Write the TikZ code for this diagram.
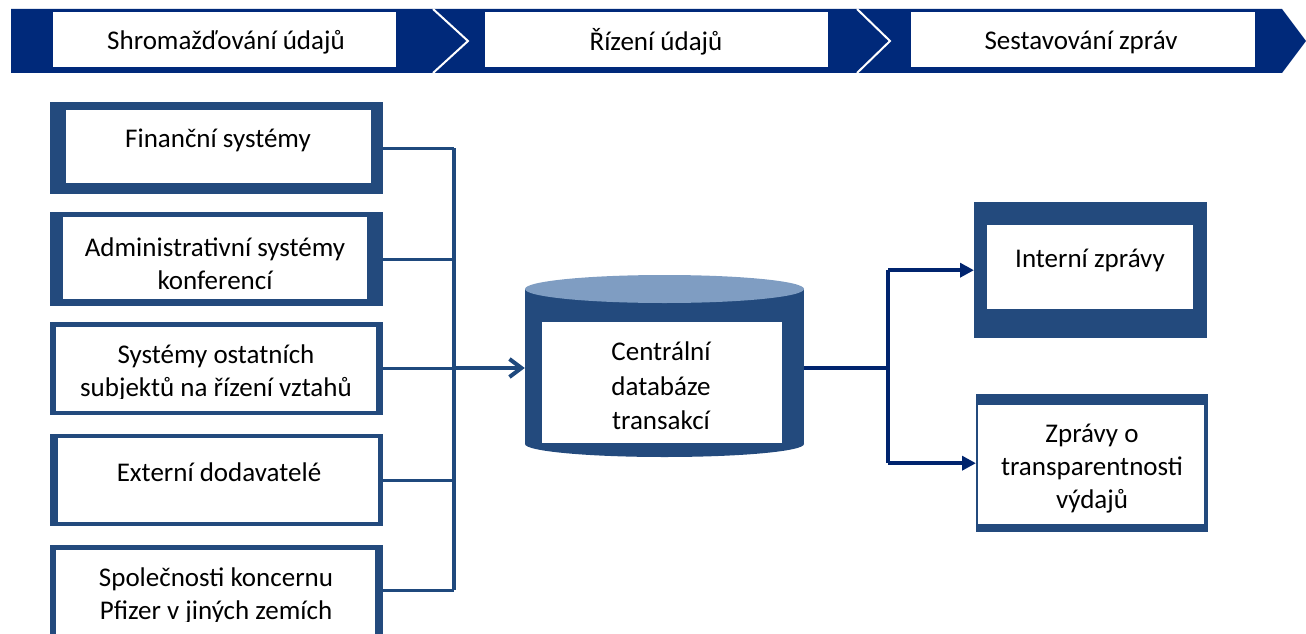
\documentclass[tikz,border=0pt]{standalone}
\usepackage{fontspec}
\setmainfont{Carlito}
\usetikzlibrary{arrows.meta}
\definecolor{bannerblue}{RGB}{0,41,122}
\definecolor{boxblue}{RGB}{35,74,125}
\definecolor{cyltop}{RGB}{127,157,194}
\definecolor{lineblue}{RGB}{31,73,125}
\definecolor{arrowblue}{RGB}{0,36,110}
\begin{document}
\begin{tikzpicture}[x=1pt,y=-1pt,
  frame/.style={fill=boxblue, inner sep=0pt, anchor=north west, draw=none},
  pane/.style={fill=white, inner sep=0pt, anchor=north west, draw=none},
  label/.style={font=\fontsize{27}{33}\selectfont, align=center, inner sep=0pt, text=black},
  feed/.style={draw=lineblue, line width=3.2pt},
  outarrow/.style={draw=arrowblue, line width=4pt},
]
\useasboundingbox (0,0) rectangle (1306,634);

% banner
\fill[bannerblue] (11,9) -- (1282,9) -- (1306,41) -- (1282,73) -- (11,73) -- cycle;
\draw[white, line width=2pt] (433,9) -- (468,41) -- (433,73);
\draw[white, line width=2pt] (857,9) -- (890,41) -- (857,73);
\node[pane, minimum width=343, minimum height=55] (b1) at (53,12) {};
\node[pane, minimum width=343, minimum height=55] (b2) at (485,12) {};
\node[pane, minimum width=344, minimum height=55] (b3) at (911,12) {};
\node[label] (b1t) at (226,42) {Shromažďování údajů};
\node[label] (b2t) at (656,42) {Řízení údajů};
\node[label] (b3t) at (1081,42) {Sestavování zpráv};

% left source boxes
\node[frame, minimum width=333, minimum height=92] (f1) at (50,102) {};
\node[pane, minimum width=305, minimum height=73] (p1) at (66,110) {};
\node[label] (t1) at (218,140) {Finanční systémy};

\node[frame, minimum width=333, minimum height=94] (f2) at (50,212) {};
\node[pane, minimum width=304, minimum height=82] (p2) at (63,217) {};
\node[label] (t2) at (215,264) {Administrativní systémy\\konferencí};

\node[frame, minimum width=333, minimum height=93] (f3) at (50,322) {};
\node[pane, minimum width=320, minimum height=84] (p3) at (56,327) {};
\begin{scope}
\clip (56,327) rectangle (376,398);
\node[label] (t3) at (216,373) {Systémy ostatních\\subjektů na řízení vztahů};
\end{scope}

\node[frame, minimum width=333, minimum height=92] (f4) at (50,434) {};
\node[pane, minimum width=320, minimum height=84] (p4) at (58,438) {};
\node[label] (t4) at (219,472) {Externí dodavatelé};

\node[frame, minimum width=333, minimum height=90] (f5) at (50,545) {};
\node[pane, minimum width=319, minimum height=90] (p5) at (56,550) {};
\begin{scope}
\clip (56,550) rectangle (375,621);
\node[label] (t5) at (216,596) {Společnosti koncernu\\Pfizer v jiných zemích};
\end{scope}

% central database (cylinder)
\fill[boxblue] (525,289) rectangle (804,444);
\fill[boxblue] (664.5,444) ellipse [x radius=139.5, y radius=13];
\fill[cyltop] (664.5,289) ellipse [x radius=139.5, y radius=14];
\node[inner sep=0pt, minimum width=279, minimum height=186] (db) at (664.5,368) {};
\node[pane, minimum width=240, minimum height=121] (dbpane) at (542,322) {};
\node[label, font=\fontsize{27}{34.5}\selectfont] (dbt) at (661,386) {Centrální\\databáze\\transakcí};

% right report boxes
\node[frame, minimum width=233, minimum height=136] (r1) at (974,202) {};
\node[pane, minimum width=206, minimum height=84] (rp1) at (987,225) {};
\node[label] (rt1) at (1090,260) {Interní zprávy};

\node[frame, minimum width=232, minimum height=138] (r2) at (976,394) {};
\node[pane, minimum width=226, minimum height=119] (rp2) at (978,405) {};
\node[label] (rt2) at (1092,469) {Zprávy o\\transparentnosti\\výdajů};

% connectors: sources to database
\coordinate (busx) at (454,0);
\draw[feed] (f1.east) -- (f1.east -| busx);
\draw[feed] (f2.east) -- (f2.east -| busx);
\draw[feed] (f3.east) -- (f3.east -| busx);
\draw[feed] (f4.east) -- (f4.east -| busx);
\draw[feed] (f5.east) -- (f5.east -| busx);
\draw[feed] (f1.east -| busx) -- (f5.east -| busx);
\draw[feed, line width=4pt, -{Straight Barb[length=12pt, width=18pt, line width=4pt]}] (busx |- db.west) -- (db.west);

% connectors: database to reports
\coordinate (jx) at (888,0);
\draw[outarrow] (db.east) -- (jx |- db.east);
\draw[outarrow] (jx |- r1.west) -- (jx |- r2.west);
\draw[outarrow, -{Triangle[length=14pt, width=14pt]}] (jx |- r1.west) -- (r1.west);
\draw[outarrow, -{Triangle[length=14pt, width=14pt]}] (jx |- r2.west) -- (r2.west);
\end{tikzpicture}
\end{document}
